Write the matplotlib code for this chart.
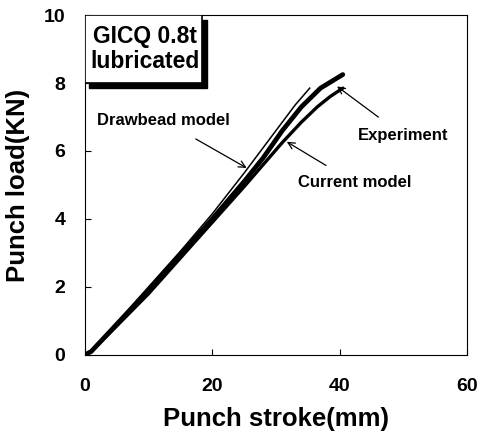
import numpy as np
import matplotlib
matplotlib.use("Agg")
import matplotlib.pyplot as plt
from matplotlib.patches import Rectangle

# Datos
exp_x = [0, 1, 5, 10, 15, 20, 25, 28, 31, 34, 37, 40.5]
exp_y = [0, 0.1, 0.9, 1.9, 2.95, 4.0, 5.1, 5.8, 6.6, 7.3, 7.85, 8.25]

cur_x = [0, 1, 5, 10, 15, 20, 25, 28, 31, 34, 36.5, 38.5, 40.5]
cur_y = [0, 0.1, 0.85, 1.8, 2.85, 3.9, 4.95, 5.6, 6.25, 6.85, 7.3, 7.6, 7.85]

db_x = [0, 1, 5, 10, 15, 20, 25, 28, 31, 33, 35.3]
db_y = [0, 0.12, 0.95, 2.0, 3.05, 4.15, 5.35, 6.1, 6.85, 7.35, 7.85]

plt.rcParams['font.family'] = ['Liberation Sans', 'DejaVu Sans']
plt.rcParams['font.weight'] = 'bold'

fig = plt.figure(figsize=(4.85, 4.43), dpi=100)
ax = fig.add_axes([0.175, 0.199, 0.788, 0.767])

ax.plot(exp_x, exp_y, color='black', lw=3.4, solid_capstyle='round')
ax.plot(cur_x, cur_y, color='black', lw=2.4, solid_capstyle='round')
ax.plot(db_x, db_y, color='black', lw=1.1)

ax.set_xlim(0, 60)
ax.set_ylim(0, 10)
ax.set_xticks([0, 20, 40, 60])
ax.set_yticks([0, 2, 4, 6, 8, 10])
ax.tick_params(direction='in', length=4, labelsize=14)
ax.tick_params(axis='x', pad=17)
ax.tick_params(axis='y', pad=14)
for lab in ax.get_xticklabels() + ax.get_yticklabels():
    lab.set_fontweight('bold')
ax.set_xlabel("Punch stroke(mm)", fontsize=18.5, fontweight='bold', labelpad=8)
ax.set_ylabel("Punch load(KN)", fontsize=18.5, fontweight='bold', labelpad=10)

# Caja con sombra
ax.add_patch(Rectangle((0.7, 7.85), 18.4, 2.0, facecolor='black', edgecolor='black', zorder=3))
ax.add_patch(Rectangle((0, 8.0), 18.4, 2.0, facecolor='white', edgecolor='black', lw=1.2, zorder=4))
ax.text(9.4, 9.0, "GICQ 0.8t\nlubricated", ha='center', va='center', fontsize=16.5,
        fontweight='bold', zorder=5, linespacing=1.15)

arrow = dict(arrowstyle='->', color='black', lw=0.9)
ax.annotate("Drawbead model", xy=(25.4, 5.5), xytext=(12.3, 6.9), ha='center', va='center',
            fontsize=12, fontweight='bold', arrowprops=dict(arrow, shrinkA=12, shrinkB=0))
ax.annotate("Experiment", xy=(39.6, 7.9), xytext=(50.0, 6.45), ha='center', va='center',
            fontsize=12, fontweight='bold', arrowprops=dict(arrow, shrinkA=10, shrinkB=0))
ax.annotate("Current model", xy=(31.7, 6.27), xytext=(42.4, 5.06), ha='center', va='center',
            fontsize=12, fontweight='bold', arrowprops=dict(arrow, shrinkA=10, shrinkB=0))

plt.savefig("out.png", dpi=100)
